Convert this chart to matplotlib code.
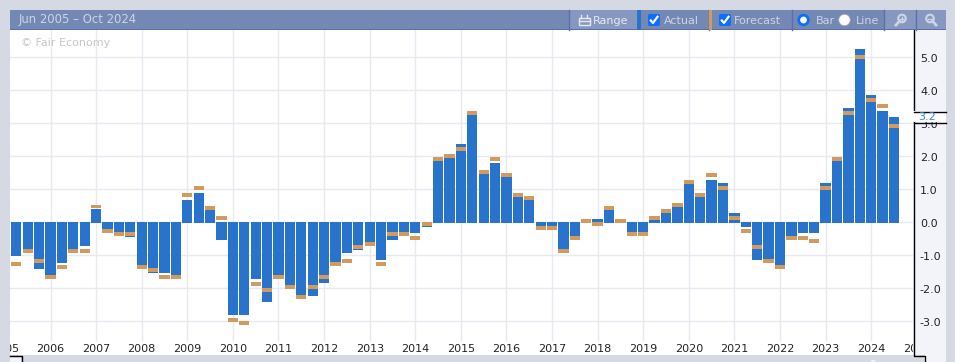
#!/usr/bin/env python3
import matplotlib
matplotlib.use("Agg")
import matplotlib.pyplot as plt
from matplotlib.patches import Rectangle, Circle, FancyBboxPatch
from matplotlib.transforms import ScaledTranslation
import numpy as np

# quarterly, Jun 2005 - Sep 2024
actual = [-1.03, -0.90, -1.42, -1.60, -1.24, -0.85, -0.73, 0.40, -0.21, -0.30, -0.45, -1.35,
          -1.55, -1.55, -1.62, 0.67, 0.88, 0.36, -0.55, -2.82, -2.82, -1.73, -2.42, -1.65,
          -1.93, -2.25, -2.24, -1.85, -1.25, -0.94, -0.85, -0.65, -1.15, -0.55, -0.35, -0.33,
          -0.15, 1.85, 1.94, 2.36, 3.24, 1.45, 1.79, 1.36, 0.76, 0.67, -0.12, -0.12,
          -0.85, -0.45, 0.0, 0.09, 0.36, 0.0, -0.33, -0.33, 0.06, 0.27, 0.45, 1.15,
          0.76, 1.27, 1.18, 0.27, -0.15, -1.15, -1.13, -1.33, -0.42, -0.33, -0.33, 1.18,
          1.85, 3.45, 5.24, 3.85, 3.36, 3.18]
forecast = [-1.27, -0.88, -1.18, -1.67, -1.36, -0.88, -0.88, 0.47, -0.27, -0.36, -0.36, -1.36,
            -1.45, -1.67, -1.67, 0.82, 1.03, 0.42, 0.12, -2.97, -3.06, -1.88, -2.06, -1.67,
            -1.97, -2.27, -1.97, -1.67, -1.27, -1.18, -0.76, -0.67, -1.27, -0.36, -0.36, -0.48,
            -0.06, 1.91, 2.00, 2.21, 3.30, 1.52, 1.91, 1.42, 0.82, 0.73, -0.18, -0.18,
            -0.88, -0.48, 0.03, -0.06, 0.42, 0.03, -0.36, -0.36, 0.12, 0.33, 0.52, 1.21,
            0.82, 1.42, 1.03, 0.12, -0.27, -0.76, -1.18, -1.36, -0.48, -0.48, -0.58, 1.03,
            1.91, 3.30, 5.00, 3.70, 3.52, 2.91]
years = list(range(2005, 2026))
y_ticks = [-3, -2, -1, 0, 1, 2, 3, 4, 5, 6]
last_label = "3.2"
date_range = "Jun 2005 \u2013 Oct 2024"

BLUE = "#2874cd"
ORANGE = "#d29a5c"
GRID = "#e8eaf2"
BG = "#d5d9e3"
HEAD = "#7388b3"
HEAD_L = "#8698c0"
HEAD_D = "#5a70a8"
HEAD_TXT = "#cdd4e6"
PANEL = "#f3f4fa"

W, H = 955, 362
fig = plt.figure(figsize=(W / 100, H / 100), dpi=100, facecolor=BG)


def pixel_axes(z):
    a = fig.add_axes([0, 0, 1, 1], facecolor="none", zorder=z)
    a.set_xlim(0, W)
    a.set_ylim(H, 0)
    a.axis("off")
    return a


def box(a, x0, y0, x1, y1, color, z=1):
    a.add_patch(Rectangle((x0, y0), x1 - x0, y1 - y0, fc=color, ec="none", zorder=z))


# right value panel goes under the plot axes so the tick labels stay on top
under = pixel_axes(0)
box(under, 913, 30, 946, 355, PANEL)
box(under, 924, 355, 946, 362, PANEL)
under.plot([913.5, 913.5], [30, 111], color="black", lw=1, zorder=2)
under.plot([913.5, 913.5, 924.5, 924.5], [122, 355.5, 355.5, 362], color="black", lw=1, zorder=2)

# plot area: px 10..913 wide, 10..355 tall (top part sits under the header)
ax = fig.add_axes([10 / W, (H - 355) / H, 903 / W, 345 / H], zorder=1)
ax.set_xlim(-0.553, 78.66)
ax.set_ylim(-133 / 33, 212 / 33)
for s in ax.spines.values():
    s.set_visible(False)

xs = np.arange(len(actual))
vals = np.array(actual)
base = np.where(vals > 0, -0.03, 0.0)  # positive bars start a pixel under zero
ax.bar(xs, vals - base, bottom=base, width=0.91, color=BLUE, zorder=3)
ax.bar(xs, 0.12, bottom=np.array(forecast) - 0.06, width=0.91, color=ORANGE, zorder=4)

year_x = [3 + 4 * (y - 2006) for y in years]
ax.vlines(year_x, -3.6, 6.4, color=GRID, lw=1, zorder=1)
ax.hlines(y_ticks, -1, 80, color=GRID, lw=1, zorder=1)
ax.set_xticks([])
ax.yaxis.tick_right()
ax.set_yticks(y_ticks)
ax.set_yticklabels([f"{v:.1f}" for v in y_ticks], fontsize=8, color="#222222")
ax.tick_params(axis="y", length=0, pad=5)
nudge = ScaledTranslation(0, -1 / 100, fig.dpi_scale_trans)
for lbl in ax.get_yticklabels():
    lbl.set_transform(lbl.get_transform() + nudge)
for y, xp in zip(years, year_x):
    ax.text(xp, -126.5 / 33, str(y), ha="center", va="center", fontsize=8, color="#222222",
            clip_on=True, zorder=5)

# overlay in pixel coords for the widget chrome
ov = pixel_axes(2)


def check(x):
    ov.add_patch(FancyBboxPatch((x + 1, 15), 10, 10, boxstyle="round,pad=1,rounding_size=2",
                                fc="#0b6efd", ec="none", zorder=3))
    ov.plot([x + 2.8, x + 5, x + 9.5], [20.5, 23, 16.8], color="white", lw=1.6, zorder=4)


def magnifier(x, plus):
    ov.add_patch(Circle((x, 18.5), 3.8, fc="none", ec=HEAD_TXT, lw=1.5, zorder=3))
    d = 1 if plus else -1
    ov.plot([x - 2.6 * d, x - 6 * d], [21.3, 25], color=HEAD_TXT, lw=2, zorder=3)
    ov.plot([x - 2, x + 2], [18.5, 18.5], color=HEAD_TXT, lw=1, zorder=3)
    if plus:
        ov.plot([x, x], [16.5, 20.5], color=HEAD_TXT, lw=1, zorder=3)


# last value flag, sits over the 3.0 tick label
box(ov, 913, 111, 946, 122, "white")
ov.plot([913.5, 946], [111.5, 111.5], color="black", lw=1, zorder=2)
ov.plot([913.5, 946], [122.5, 122.5], color="black", lw=1, zorder=2)
ov.text(927.5, 117.5, last_label, ha="center", va="center", fontsize=8, color="#3d83d8", zorder=3)

# bottom strip
box(ov, 10, 355.5, 21, 362, PANEL)
ov.plot([10, 21.5, 21.5], [355.5, 355.5, 362], color="black", lw=1, zorder=2)
ov.add_patch(Circle((873, 363), 3, fc="#f2f3f8", ec="none", zorder=2))

# header
box(ov, 10, 10, 946, 30, HEAD, 2)
box(ov, 569, 10, 637, 30, HEAD_L, 2)
box(ov, 884, 10, 946, 30, HEAD_L, 2)
box(ov, 10, 29, 946, 30, HEAD_D, 3)
for sx in [568.5, 708.5, 792, 884, 915.5]:
    ov.plot([sx, sx], [10, 30], color=HEAD_D, lw=1, zorder=3)
box(ov, 637, 10, 641, 30, BLUE, 3)
box(ov, 709, 10, 712, 30, ORANGE, 3)

ov.text(19, 20, date_range, ha="left", va="center", fontsize=8.4, color=HEAD_TXT, zorder=4)
ov.text(593, 20.5, "Range", ha="left", va="center", fontsize=8, color="#e6e9f2", zorder=4)
ov.add_patch(Rectangle((578.5, 18), 11, 6.5, fc="none", ec="#e6e9f2", lw=1, zorder=4))
ov.plot([578.5, 589.5], [20.5, 20.5], color="#e6e9f2", lw=1, zorder=4)
ov.plot([581, 581], [15, 18], color="#e6e9f2", lw=1, zorder=4)
ov.plot([587, 587], [15, 18], color="#e6e9f2", lw=1, zorder=4)
check(648)
ov.text(664, 20.5, "Actual", ha="left", va="center", fontsize=8, color=HEAD_TXT, zorder=4)
check(719)
ov.text(734, 20.5, "Forecast", ha="left", va="center", fontsize=8, color=HEAD_TXT, zorder=4)
ov.add_patch(Circle((803.5, 20), 4.8, fc="white", ec="#0b6efd", lw=2, zorder=4))
ov.text(816, 20.5, "Bar", ha="left", va="center", fontsize=8, color=HEAD_TXT, zorder=4)
ov.add_patch(Circle((844.5, 20), 5.8, fc="white", ec="#99a0b0", lw=0.6, zorder=4))
ov.text(856, 20.5, "Line", ha="left", va="center", fontsize=8, color=HEAD_TXT, zorder=4)
magnifier(902, True)
magnifier(930, False)

ov.text(21, 43, "\u00a9 Fair Economy", ha="left", va="center", fontsize=8, color="#c6c6c6", zorder=4)

fig.savefig("out.png", dpi=100, facecolor=BG)
